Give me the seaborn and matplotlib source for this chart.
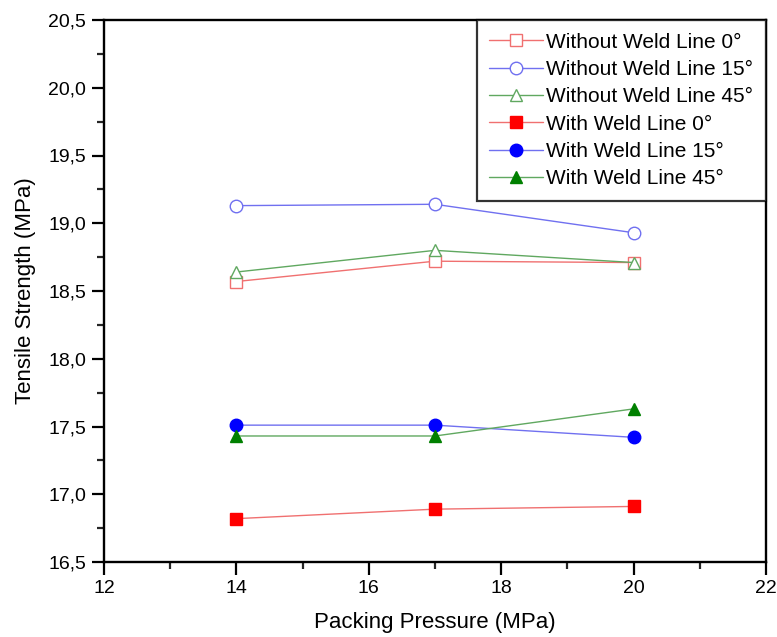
import matplotlib
matplotlib.use("Agg")
import matplotlib.pyplot as plt
import seaborn as sns
import pandas as pd
from matplotlib.ticker import MultipleLocator, FuncFormatter

pressure = [14, 17, 20]
without_0 = [18.57, 18.72, 18.71]
without_15 = [19.13, 19.14, 18.93]
without_45 = [18.64, 18.80, 18.71]
with_0 = [16.82, 16.89, 16.91]
with_15 = [17.51, 17.51, 17.42]
with_45 = [17.43, 17.43, 17.63]
labels = ["Without Weld Line 0°", "Without Weld Line 15°", "Without Weld Line 45°",
          "With Weld Line 0°", "With Weld Line 15°", "With Weld Line 45°"]

series = [without_0, without_15, without_45, with_0, with_15, with_45]
colors = ["#ff0000", "#0000ff", "#008000", "#ff0000", "#0000ff", "#008000"]
line_colors = ["#f07070", "#7070f0", "#60a860", "#f07070", "#7070f0", "#60a860"]
markers = ["s", "o", "^", "s", "o", "^"]
filled = [False, False, False, True, True, True]

sns.set_theme(style="ticks")
plt.rcParams['font.family'] = ['Liberation Sans', 'DejaVu Sans']
plt.rcParams['text.color'] = 'black'
plt.rcParams['axes.labelcolor'] = 'black'

fig = plt.figure(figsize=(7.77, 6.37), dpi=100)
ax = fig.add_axes([0.1338, 1 - 562 / 637, 0.9858 - 0.1338, (562 - 20) / 637])

for lab, ys, c, lc, m, f in zip(labels, series, colors, line_colors, markers, filled):
    df = pd.DataFrame({"x": pressure, "y": ys})
    sns.lineplot(data=df, x="x", y="y", ax=ax, color=lc, linewidth=1.0,
                 marker=m, markersize=9 if m != "s" else 8,
                 markerfacecolor=c if f else "white",
                 markeredgecolor=c if f else lc,
                 markeredgewidth=1.0, label=lab)

ax.set_xlim(12, 22)
ax.set_ylim(16.5, 20.5)
ax.xaxis.set_major_locator(MultipleLocator(2))
ax.xaxis.set_minor_locator(MultipleLocator(1))
ax.yaxis.set_major_locator(MultipleLocator(0.5))
ax.yaxis.set_minor_locator(MultipleLocator(0.25))
ax.yaxis.set_major_formatter(FuncFormatter(lambda v, p: f"{v:.1f}".replace(".", ",")))
ax.xaxis.set_major_formatter(FuncFormatter(lambda v, p: f"{v:.0f}"))
ax.tick_params(which="major", direction="out", length=9, width=1.6, labelsize=14,
               colors="black", pad=4)
ax.tick_params(which="minor", direction="out", length=5, width=1.6)
for s in ax.spines.values():
    s.set_linewidth(1.7)
    s.set_color("black")
ax.set_xlabel("Packing Pressure (MPa)", fontsize=16, labelpad=11)
ax.set_ylabel("Tensile Strength (MPa)", fontsize=16, labelpad=9)

leg = ax.legend(loc="upper right", borderaxespad=0, frameon=True, fancybox=False,
                fontsize=15, handlelength=2.6, handletextpad=0.15, labelspacing=0.4,
                borderpad=0.6)
leg.get_frame().set_edgecolor("black")
leg.get_frame().set_linewidth(1.6)

fig.savefig("out.png", dpi=100)
